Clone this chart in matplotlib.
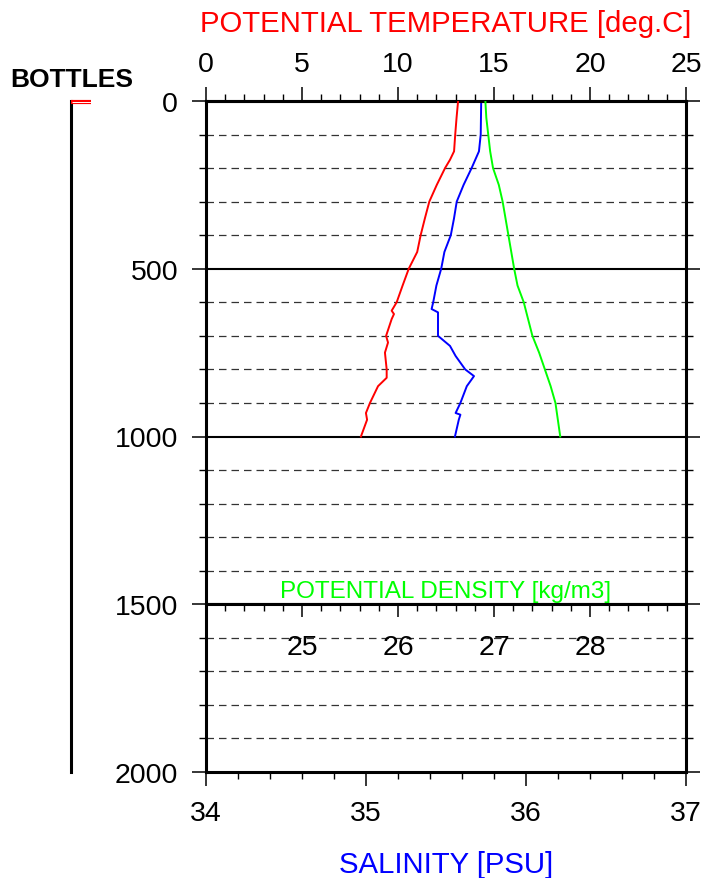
import numpy as np
import matplotlib.pyplot as plt
import matplotlib.ticker as ticker

plt.rcParams['font.family'] = ['Liberation Sans', 'DejaVu Sans']

# profile data
temp_depth = [0, 50, 100, 150, 175, 200, 250, 300, 350, 400, 450, 500, 550, 600,
              625, 635, 650, 700, 720, 750, 800, 825, 850, 900, 930, 950, 1000]
temp = [13.13, 13.05, 12.98, 12.92, 12.71, 12.45, 12.02, 11.63, 11.40, 11.18, 11.00,
        10.56, 10.24, 9.93, 9.67, 9.79, 9.67, 9.38, 9.48, 9.32, 9.41, 9.41, 8.96,
        8.54, 8.33, 8.39, 8.07]

sal_depth = [0, 100, 150, 200, 230, 250, 300, 350, 400, 450, 500, 550, 600, 620,
             630, 700, 730, 760, 800, 820, 850, 900, 930, 935, 950, 1000]
sal = [35.72, 35.717, 35.706, 35.66, 35.63, 35.61, 35.567, 35.55, 35.53, 35.49,
       35.47, 35.44, 35.42, 35.41, 35.45, 35.45, 35.525, 35.56, 35.62, 35.675,
       35.63, 35.59, 35.56, 35.59, 35.58, 35.556]

dens_depth = [0, 50, 100, 150, 200, 250, 300, 400, 500, 550, 600, 700, 750, 800,
              850, 900, 1000]
dens = [26.91, 26.92, 26.94, 26.96, 26.99, 27.05, 27.09, 27.15, 27.21, 27.245,
        27.31, 27.40, 27.47, 27.53, 27.59, 27.64, 27.69]

bottle_depths = [3]

temp_ticks = [0, 5, 10, 15, 20, 25]
sal_ticks = [34, 35, 36, 37]
dens_ticks = [25, 26, 27, 28]
depth_ticks = [0, 500, 1000, 1500, 2000]

W, H = 704, 879
pos = [206 / W, 106 / H, 480 / W, 671 / H]
LBL = 20.5

fig = plt.figure(figsize=(W / 100, H / 100), dpi=100)

# main axes: salinity on the bottom, depth on the left
ax = fig.add_axes(pos)
ax.set_xlim(34, 37)
ax.set_ylim(2000, 0)
ax.set_xticks(sal_ticks)
ax.xaxis.set_minor_locator(ticker.MultipleLocator(0.2))
ax.set_yticks(depth_ticks)
ax.yaxis.set_minor_locator(ticker.MultipleLocator(100))
ax.tick_params(axis='x', which='both', direction='out', top=False, labelsize=LBL)
ax.tick_params(axis='x', which='major', length=10, width=1.1, pad=10)
ax.tick_params(axis='x', which='minor', length=5, width=1.0)
ax.tick_params(axis='y', which='both', direction='out', left=True, right=True, labelsize=LBL)
ax.tick_params(axis='y', which='major', length=10, width=1.1, pad=10)
ax.tick_params(axis='y', which='minor', length=5, width=1.0)
for s in ax.spines.values():
    s.set_linewidth(2.2)

for d in np.arange(100, 2000, 100):
    if d % 500 == 0:
        ax.axhline(d, color='black', lw=1.5, zorder=1)
    else:
        ax.axhline(d, color='#333333', lw=0.9, dashes=(6, 4), zorder=1)

ax.plot(sal, sal_depth, color='#0000ff', lw=1.4, zorder=3)

# temperature on the top
axT = ax.twiny()
axT.set_xlim(0, 25)
axT.set_xticks(temp_ticks)
axT.xaxis.set_minor_locator(ticker.MultipleLocator(1))
axT.tick_params(axis='x', which='both', direction='out', labelsize=LBL)
axT.tick_params(axis='x', which='major', length=10, width=1.1, pad=7)
axT.tick_params(axis='x', which='minor', length=5, width=1.0)
for k, s in axT.spines.items():
    s.set_visible(k == 'top')
    s.set_linewidth(2.2)
axT.plot(temp, temp_depth, color='#ff0000', lw=1.4, zorder=3)

# density curve
axD = fig.add_axes(pos)
axD.set_xlim(24, 29)
axD.set_ylim(2000, 0)
axD.axis('off')
axD.plot(dens, dens_depth, color='#00ff00', lw=1.4)

# density scale sitting on the 1500 m line
axDt = fig.add_axes([pos[0], pos[1], pos[2], pos[3] * 0.25])
axDt.set_xlim(24, 29)
axDt.patch.set_visible(False)
axDt.set_yticks([])
axDt.set_xticks(dens_ticks)
axDt.xaxis.set_minor_locator(ticker.MultipleLocator(0.2))
axDt.xaxis.set_ticks_position('top')
axDt.tick_params(axis='x', which='both', direction='in', labeltop=True,
                 labelbottom=False, labelsize=LBL)
axDt.tick_params(axis='x', which='major', length=9.5, width=1.1, pad=-40)
axDt.tick_params(axis='x', which='minor', length=5, width=1.0)
for k, s in axDt.spines.items():
    s.set_visible(k == 'top')
    s.set_linewidth(2.2)
axDt.annotate('POTENTIAL DENSITY [kg/m3]', xy=(0.5, 1), xycoords='axes fraction',
              xytext=(0, 1.5), textcoords='offset points', ha='center', va='bottom',
              color='#00ff00', fontsize=17.5)

# bottles
axB = fig.add_axes([71 / W, pos[1], 30 / W, pos[3]])
axB.set_xlim(0, 1)
axB.set_ylim(2000, 0)
axB.axis('off')
axB.axvline(0, color='black', lw=2.2, clip_on=False)
axB.hlines(bottle_depths, 0, 0.66, color='#ff0000', lw=3.0, clip_on=False)
axB.hlines(bottle_depths, 0.04, 0.66, color='white', lw=0.7, clip_on=False)

fig.text(10 / W, 1 - 87 / H, 'BOTTLES', fontsize=19, fontweight='bold',
         ha='left', va='baseline')
fig.text(446 / W, 1 - 32 / H, 'POTENTIAL TEMPERATURE [deg.C]', color='#ff0000',
         fontsize=21.2, ha='center', va='baseline')
fig.text(446 / W, 1 - 873 / H, 'SALINITY [PSU]', color='#0000ff',
         fontsize=21.2, ha='center', va='baseline')

fig.savefig('out.png', dpi=100)
